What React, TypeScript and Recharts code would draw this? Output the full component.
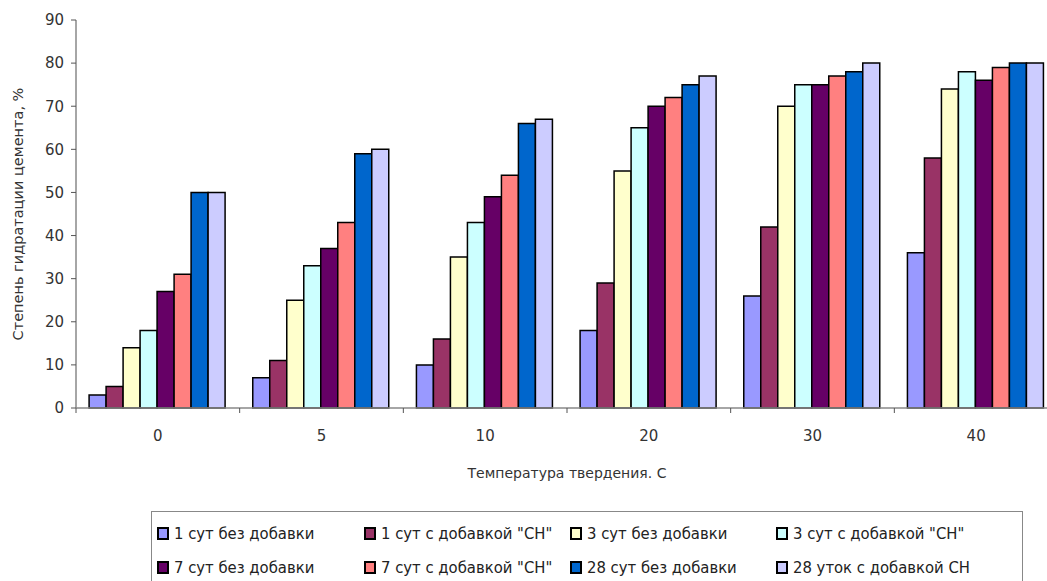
import { BarChart, Bar, XAxis, YAxis } from "recharts"

// Hydration degree (%) by curing temperature, one series per age / additive
const categories = ["0", "5", "10", "20", "30", "40"]
const day1Plain = [3, 7, 10, 18, 26, 36]
const day1Sn = [5, 11, 16, 29, 42, 58]
const day3Plain = [14, 25, 35, 55, 70, 74]
const day3Sn = [18, 33, 43, 65, 75, 78]
const day7Plain = [27, 37, 49, 70, 75, 76]
const day7Sn = [31, 43, 54, 72, 77, 79]
const day28Plain = [50, 59, 66, 75, 78, 80]
const day28Sn = [50, 60, 67, 77, 80, 80]
const yTicks = [0, 10, 20, 30, 40, 50, 60, 70, 80, 90]

const series = [
  { key: "d1", name: "1 сут без добавки", color: "#9999FF", values: day1Plain },
  { key: "d1sn", name: "1 сут с добавкой \"СН\"", color: "#993366", values: day1Sn },
  { key: "d3", name: "3 сут без добавки", color: "#FFFFCC", values: day3Plain },
  { key: "d3sn", name: "3 сут с добавкой \"СН\"", color: "#CCFFFF", values: day3Sn },
  { key: "d7", name: "7 сут без добавки", color: "#660066", values: day7Plain },
  { key: "d7sn", name: "7 сут с добавкой \"СН\"", color: "#FF8080", values: day7Sn },
  { key: "d28", name: "28 сут без добавки", color: "#0066CC", values: day28Plain },
  { key: "d28sn", name: "28 уток с добавкой СН", color: "#CCCCFF", values: day28Sn },
]

const data = categories.map((temp, i) => {
  const row: Record<string, string | number> = { temp }
  series.forEach((s) => {
    row[s.key] = s.values[i]
  })
  return row
})

const axisFont = "'DejaVu Sans', Verdana, sans-serif"
const narrowFont = "'DejaVu Sans Condensed', 'DejaVu Sans', sans-serif"

// category label plus Excel-style tick marks on the band edges
function CategoryTick({ x, y, payload, index, visibleTicksCount }: any) {
  const half = payload?.offset ?? 0
  return (
    <g>
      <line x1={x - half} x2={x - half} y1={y} y2={y + 5} stroke="#555" />
      {index === visibleTicksCount - 1 && <line x1={x + half} x2={x + half} y1={y} y2={y + 5} stroke="#555" />}
      <text x={x} y={y + 22} dy="0.71em" textAnchor="middle" fontSize={15} fill="#333" fontFamily={axisFont}>
        {payload.value}
      </text>
    </g>
  )
}

function YTitle({ viewBox }: any) {
  const cx = viewBox.x + 18
  const cy = viewBox.y + viewBox.height / 2
  return (
    <text
      x={cx}
      y={cy}
      transform={`rotate(-90 ${cx} ${cy})`}
      textAnchor="middle"
      dominantBaseline="central"
      fontFamily={axisFont}
      fontSize={14.5}
      fill="#333"
    >
      Степень гидратации цемента, %
    </text>
  )
}

function XTitle({ viewBox }: any) {
  const cx = viewBox.x + viewBox.width / 2
  return (
    <text x={cx} y={viewBox.y + 70} textAnchor="middle" fontFamily={axisFont} fontSize={14} fill="#333">
      Температура твердения. С
    </text>
  )
}

const colWidths = [207, 206, 206, 240]

function LegendBox() {
  return (
    <div
      style={{
        position: "absolute",
        left: 151,
        top: 511,
        width: 872,
        height: 80,
        border: "1px solid #888",
        boxSizing: "border-box",
        paddingTop: 4,
        paddingLeft: 5,
        fontFamily: narrowFont,
        fontSize: 16.5,
        color: "#222",
      }}
    >
      {[0, 1].map((r) => (
        <div key={r} style={{ display: "flex", height: 34, alignItems: "center" }}>
          {series.slice(r * 4, r * 4 + 4).map((s, c) => (
            <div key={s.key} style={{ width: colWidths[c], display: "flex", alignItems: "center", whiteSpace: "nowrap" }}>
              <span
                style={{
                  display: "inline-block",
                  width: 8,
                  height: 9,
                  background: s.color,
                  border: "2px solid #000",
                  marginRight: 5,
                }}
              />
              {s.name}
            </div>
          ))}
        </div>
      ))}
    </div>
  )
}

export default function App() {
  return (
    <div style={{ position: "fixed", left: 0, top: 0, width: 1047, height: 581, background: "#fff", overflow: "hidden" }}>
      {/* plot runs a little past the right edge of the frame */}
      <BarChart
        width={1058}
        height={505}
        data={data}
        margin={{ top: 20, right: 0, left: 0, bottom: 0 }}
        barCategoryGap="8%"
        barGap={0}
      >
        <XAxis
          dataKey="temp"
          height={97}
          interval={0}
          axisLine={{ stroke: "#888", strokeWidth: 1.5 }}
          tickLine={false}
          tickSize={0}
          tickMargin={0}
          tick={<CategoryTick />}
          label={<XTitle />}
        />
        <YAxis
          width={76}
          domain={[0, 90]}
          ticks={yTicks}
          interval={0}
          tickSize={5}
          tickMargin={7}
          axisLine={{ stroke: "#888", strokeWidth: 1.5 }}
          tickLine={{ stroke: "#555" }}
          tick={{ fontSize: 15, fill: "#333", fontFamily: axisFont }}
          label={<YTitle />}
        />
        {series.map((s) => (
          <Bar
            key={s.key}
            dataKey={s.key}
            name={s.name}
            fill={s.color}
            stroke="#000"
            strokeWidth={1.5}
            isAnimationActive={false}
          />
        ))}
      </BarChart>
      <LegendBox />
    </div>
  )
}
